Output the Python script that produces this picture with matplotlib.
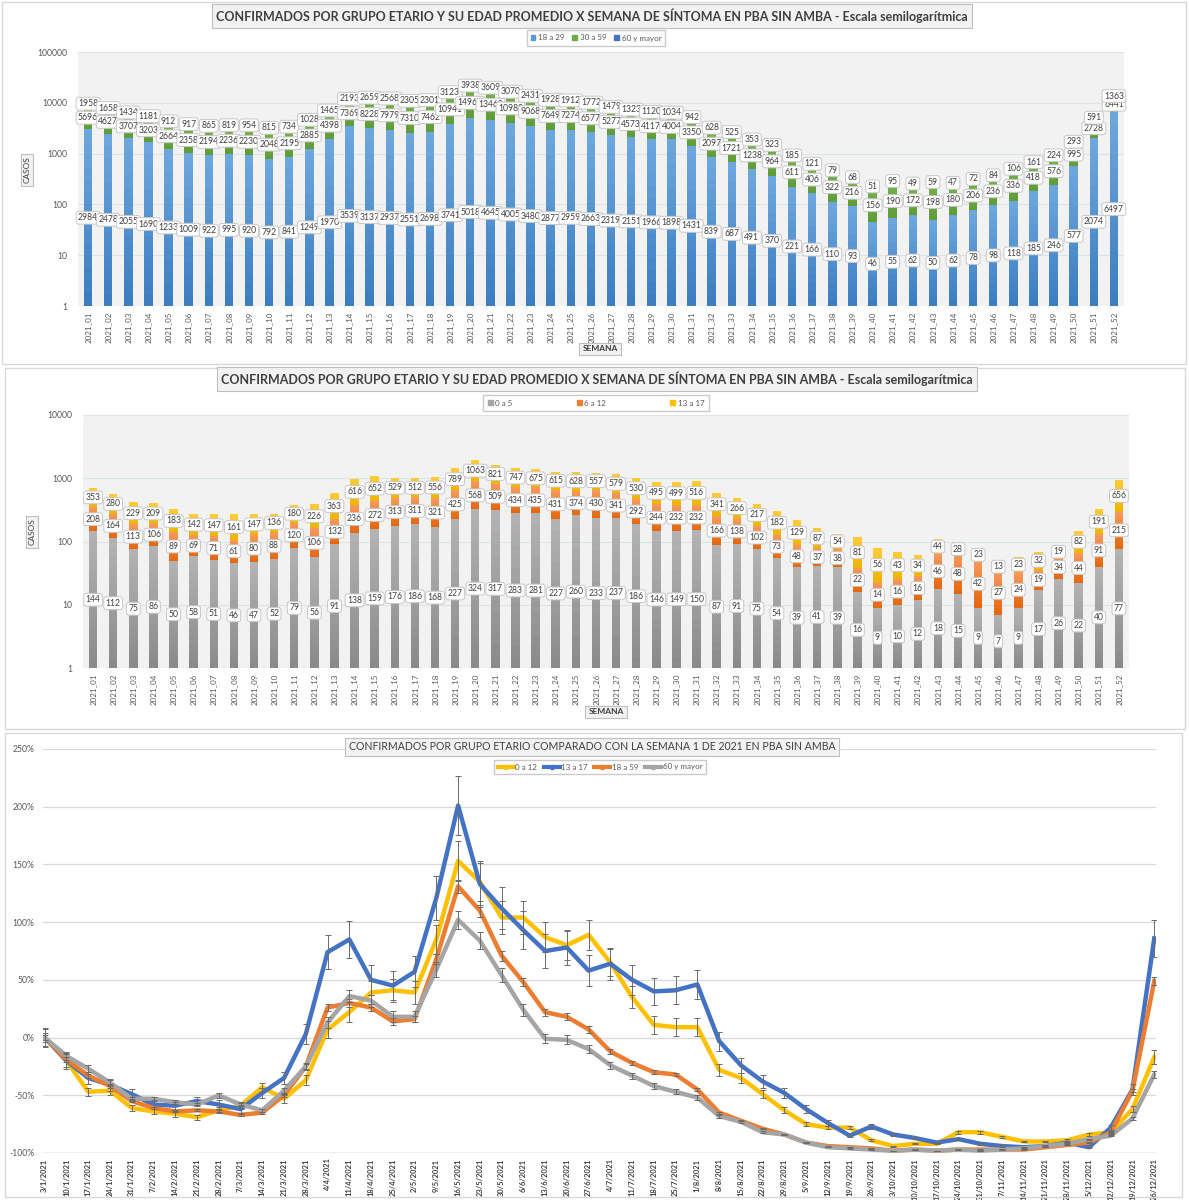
import numpy as np
import matplotlib
matplotlib.use("Agg")
import matplotlib.pyplot as plt
from matplotlib.patches import Rectangle, Patch
from matplotlib.lines import Line2D
from matplotlib.colors import to_rgb

plt.rcParams['font.family'] = ['Lato', 'DejaVu Sans']

# ---------------- DATA ----------------
weeks = ["2021_%02d" % i for i in range(1, 53)]

# Panel 1 (adults)
a18_29 = [2984, 2478, 2055, 1690, 1233, 1009, 922, 995, 920, 792, 841, 1249, 1970, 3539, 3137, 2937, 2551, 2698,
          3741, 5018, 4645, 4005, 3480, 2877, 2959, 2663, 2319, 2151, 1966, 1898, 1431, 839, 687, 491, 370, 221,
          166, 110, 93, 46, 55, 62, 50, 62, 78, 98, 118, 185, 246, 577, 2074, 6497]
a30_59 = [5696, 4627, 3707, 3203, 2664, 2358, 2194, 2236, 2230, 2048, 2195, 2885, 4398, 7369, 8228, 7979, 7310, 7462,
          10941, 14960, 13460, 10988, 9068, 7649, 7274, 6577, 5277, 4573, 4117, 4004, 3350, 2097, 1721, 1238, 964,
          611, 406, 322, 216, 156, 190, 172, 198, 180, 206, 236, 336, 418, 576, 995, 2728, 6441]
a60_mas = [1958, 1658, 1434, 1181, 912, 917, 865, 819, 954, 815, 734, 1028, 1465, 2193, 2659, 2568, 2305, 2301,
           3123, 3938, 3609, 3070, 2431, 1928, 1912, 1772, 1479, 1323, 1120, 1034, 942, 628, 525, 353, 323, 185,
           121, 79, 68, 51, 95, 49, 59, 47, 72, 84, 106, 161, 224, 293, 591, 1363]

# Panel 2 (children)
k0_5 = [144, 112, 75, 86, 50, 58, 51, 46, 47, 52, 79, 56, 91, 138, 159, 176, 186, 168, 227, 324, 317, 283, 281, 227,
        260, 233, 237, 186, 146, 149, 150, 87, 91, 75, 54, 39, 41, 39, 16, 9, 10, 12, 18, 15, 9, 7, 9, 17, 26, 22,
        40, 77]
k6_12 = [208, 164, 113, 106, 89, 69, 71, 61, 80, 88, 120, 106, 132, 236, 272, 313, 311, 321, 425, 568, 509, 434,
         435, 431, 374, 430, 341, 292, 244, 232, 232, 166, 138, 102, 73, 48, 37, 38, 22, 14, 16, 16, 46, 48, 42, 27,
         24, 19, 34, 44, 91, 215]
k13_17 = [353, 280, 229, 209, 183, 142, 147, 161, 147, 136, 180, 226, 363, 616, 652, 529, 512, 556, 789, 1063, 821,
          747, 675, 615, 628, 557, 579, 530, 495, 499, 516, 341, 266, 217, 182, 129, 87, 54, 81, 56, 43, 34, 44, 28,
          23, 13, 23, 32, 19, 82, 191, 656]

# Panel 3 (% change vs week 1)
dates = ["3/1/2021", "10/1/2021", "17/1/2021", "24/1/2021", "31/1/2021", "7/2/2021", "14/2/2021", "21/2/2021",
         "28/2/2021", "7/3/2021", "14/3/2021", "21/3/2021", "28/3/2021", "4/4/2021", "11/4/2021", "18/4/2021",
         "25/4/2021", "2/5/2021", "9/5/2021", "16/5/2021", "23/5/2021", "30/5/2021", "6/6/2021", "13/6/2021",
         "20/6/2021", "27/6/2021", "4/7/2021", "11/7/2021", "18/7/2021", "25/7/2021", "1/8/2021", "8/8/2021",
         "15/8/2021", "22/8/2021", "29/8/2021", "5/9/2021", "12/9/2021", "19/9/2021", "26/9/2021", "3/10/2021",
         "10/10/2021", "17/10/2021", "24/10/2021", "31/10/2021", "7/11/2021", "14/11/2021", "21/11/2021",
         "28/11/2021", "5/12/2021", "12/12/2021", "19/12/2021", "26/12/2021"]
p0_12 = [0, -20, -47, -46, -61, -64, -66, -69, -63, -59, -43, -53, -37, 7, 22, 39, 41, 39, 85, 153, 135, 104, 104,
         87, 80, 89, 65, 35, 11, 9, 9, -28, -35, -49, -63, -75, -78, -78, -89, -94, -92, -92, -82, -82, -86, -90,
         -90, -89, -84, -82, -62, -17]
p13_17 = [0, -20, -35, -41, -49, -58, -59, -55, -58, -62, -48, -35, 3, 74, 85, 50, 45, 57, 121, 201, 133, 112, 93,
          75, 78, 58, 64, 50, 40, 41, 46, -3, -24, -38, -48, -62, -74, -85, -77, -84, -87, -91, -88, -92, -94, -95,
          -94, -91, -95, -78, -45, 86]
p18_59 = [0, -19, -33, -42, -55, -61, -64, -63, -64, -67, -65, -50, -25, 26, 30, 26, 14, 16, 68, 131, 110, 71, 48,
          22, 18, 7, -12, -22, -30, -32, -45, -65, -72, -79, -84, -91, -94, -95, -96, -98, -97, -98, -97, -97, -97,
          -97, -95, -93, -91, -82, -46, 49]
p60_mas = [0, -16, -27, -39, -53, -53, -56, -58, -50, -58, -63, -46, -25, 13, 36, 32, 18, 18, 59, 102, 84, 54, 24,
           -1, -2, -10, -24, -33, -42, -47, -52, -68, -73, -82, -84, -91, -95, -96, -97, -98, -97, -98, -97, -98,
           -97, -96, -94, -92, -88, -85, -70, -32]
err_frac = {"0 a 12": 0.07, "13 a 17": 0.085, "18 a 59": 0.025, "60 y mayor": 0.04}

# ---------------- HELPERS ----------------
W, H = 1189, 1200
fig = plt.figure(figsize=(W / 100, H / 100), dpi=100)


def fx(x):
    return x / W


def fy(y):
    return 1 - y / H


def rect_ax(x0, y0, x1, y1):
    return fig.add_axes([fx(x0), fy(y1), fx(x1) - fx(x0), fy(y0) - fy(y1)])


def mix(c1, c2, t):
    a, b = np.array(to_rgb(c1)), np.array(to_rgb(c2))
    return tuple(a + (b - a) * t)


def grad_bars(ax, x, lo, hi, c_lo, c_hi, width, n=14):
    lo = np.asarray(lo, float)
    hi = np.asarray(hi, float)
    r = hi / lo
    for k in range(n):
        b = lo * r ** (k / n)
        t = lo * r ** ((k + 1) / n)
        ax.bar(x, t - b, bottom=b, width=width, color=mix(c_lo, c_hi, (k + 0.5) / n), lw=0, zorder=2)


def panel_border(x0, y0, x1, y1):
    fig.add_artist(Rectangle((fx(x0), fy(y1)), fx(x1) - fx(x0), fy(y0) - fy(y1), transform=fig.transFigure,
                             fill=False, ec='#d9d9d9', lw=1.0))


def title_box(x, y, s, bold=True, size=9.0):
    fig.text(fx(x), fy(y), s, ha='center', va='center', fontsize=size, color='#404040',
             fontweight='bold' if bold else 'normal',
             bbox=dict(boxstyle='square,pad=0.35', fc='#f2f2f2', ec='#bfbfbf', lw=0.8))


def small_box(x, y, s, rot=0, bold=False):
    fig.text(fx(x), fy(y), s, ha='center', va='center', fontsize=6, color='#404040', rotation=rot,
             fontweight='bold' if bold else 'normal',
             bbox=dict(boxstyle='square,pad=0.35', fc='#f2f2f2', ec='#bfbfbf', lw=0.8))


def data_label(ax, x, y, s):
    ax.text(x, y, s, ha='center', va='center', fontsize=6.2, color='#404040', zorder=5,
            bbox=dict(boxstyle='round,pad=0.22,rounding_size=0.3', fc='white', ec='#c8c8c8', lw=0.7))


def stacked_log_panel(ax, s1, s2, s3, cols, ymax, yticks):
    x = np.arange(len(weeks))
    s1, s2, s3 = (np.asarray(s, float) for s in (s1, s2, s3))
    c1 = s1
    c2 = s1 + s2
    c3 = c2 + s3
    ax.set_yscale('log')
    ax.set_facecolor('#f2f2f2')
    w = 0.42
    grad_bars(ax, x, np.ones_like(c1), c1, cols[0][0], cols[0][1], w)
    grad_bars(ax, x, c1, c2, cols[1][0], cols[1][1], w)
    grad_bars(ax, x, c2, c3, cols[2][0], cols[2][1], w)
    for i in range(len(x)):
        data_label(ax, x[i], np.sqrt(c1[i]), str(int(s1[i])))
        data_label(ax, x[i], np.sqrt(c1[i] * c2[i]), str(int(s2[i])))
        data_label(ax, x[i], np.sqrt(c2[i] * c3[i]), str(int(s3[i])))
    ax.set_ylim(1, ymax)
    ax.set_xlim(-0.5, len(x) - 0.5)
    ax.set_yticks(yticks)
    ax.set_yticklabels([str(v) for v in yticks])
    ax.yaxis.set_minor_locator(matplotlib.ticker.NullLocator())
    ax.set_xticks(x)
    ax.set_xticklabels(weeks, rotation=90)
    ax.tick_params(axis='x', length=0, labelsize=5.8, labelcolor='#595959', pad=4)
    ax.tick_params(axis='y', length=0, labelsize=6.2, labelcolor='#595959', pad=8)
    ax.grid(axis='y', color='#dde3ea', lw=0.8, zorder=0)
    ax.set_axisbelow(True)
    for sp in ax.spines.values():
        sp.set_visible(False)


# ---------------- PANEL 1 ----------------
panel_border(2, 2, 1186, 364)
ax1 = rect_ax(78, 52, 1124, 306)
cols1 = [('#3a7cc0', '#6ea8de'), ('#5f9b38', '#74b14a'), ('#3f6fc0', '#4a7bcc')]
stacked_log_panel(ax1, a18_29, a30_59, a60_mas, cols1, 100000, [1, 10, 100, 1000, 10000, 100000])
title_box(592, 16, "CONFIRMADOS POR GRUPO ETARIO Y SU EDAD PROMEDIO X SEMANA DE SÍNTOMA EN PBA SIN AMBA - Escala semilogarítmica")
h1 = [Patch(color='#5b9bd5'), Patch(color='#70ad47'), Patch(color='#4472c4')]
ax1.legend(h1, ["18 a 29", "30 a 59", "60 y mayor"], loc='center', bbox_to_anchor=(fx(596), fy(38)),
           bbox_transform=fig.transFigure, ncol=3, fontsize=5.8, frameon=True, fancybox=False, edgecolor='#bfbfbf',
           handlelength=0.6, handleheight=0.6, handletextpad=0.3, columnspacing=1.0, labelcolor='#595959',
           borderpad=0.5)
small_box(27, 170, "CASOS", rot=90)
small_box(600, 349, "SEMANA", bold=True)

# ---------------- PANEL 2 ----------------
panel_border(5, 368, 1185, 729)
ax2 = rect_ax(83, 415, 1129, 668)
cols2 = [('#8a8a8a', '#b3b3b3'), ('#e4660e', '#f79a5c'), ('#eeb400', '#ffcb3a')]
stacked_log_panel(ax2, k0_5, k6_12, k13_17, cols2, 10000, [1, 10, 100, 1000, 10000])
title_box(597, 379, "CONFIRMADOS POR GRUPO ETARIO Y SU EDAD PROMEDIO X SEMANA DE SÍNTOMA EN PBA SIN AMBA - Escala semilogarítmica")
h2 = [Patch(color='#a5a5a5'), Patch(color='#ed7d31'), Patch(color='#ffc000')]
ax2.legend(h2, ["0 a 5", "6 a 12", "13 a 17"], loc='center', bbox_to_anchor=(fx(596), fy(403)),
           bbox_transform=fig.transFigure, ncol=3, fontsize=5.8, frameon=True, fancybox=False, edgecolor='#bfbfbf',
           handlelength=0.6, handleheight=0.6, handletextpad=0.3, columnspacing=8.0, labelcolor='#595959',
           borderpad=0.6)
small_box(32, 532, "CASOS", rot=90)
small_box(606, 712, "SEMANA", bold=True)

# ---------------- PANEL 3 ----------------
panel_border(5, 733, 1182, 1197)
ax3 = rect_ax(43, 749, 1156, 1153)
x3 = np.arange(len(dates))
series3 = [("0 a 12", p0_12, '#ffc000'), ("13 a 17", p13_17, '#4472c4'),
           ("18 a 59", p18_59, '#ed7d31'), ("60 y mayor", p60_mas, '#a5a5a5')]
handles3 = []
for z, (name, vals, col) in enumerate(series3):
    v = np.asarray(vals, float)
    ax3.plot(x3, v, color=col, lw=3.2, solid_joinstyle='round', zorder=3 + z)
    err = err_frac[name] * (100 + v)
    ax3.errorbar(x3, v, yerr=err, fmt='none', ecolor='#6b6b6b', elinewidth=0.7, capsize=2, capthick=0.7,
                 zorder=8)
    handles3.append(Line2D([0], [0], color=col, lw=3, marker='o', markersize=3))
ax3.set_ylim(-100, 250)
ax3.set_xlim(-0.08, len(dates) - 1 + 0.08)
ax3.set_yticks(np.arange(-100, 251, 50))
ax3.set_yticklabels(["%d%%" % v for v in np.arange(-100, 251, 50)])
ax3.set_xticks(x3)
ax3.set_xticklabels(dates, rotation=90, fontweight='bold')
ax3.tick_params(axis='x', length=0, labelsize=5.4, labelcolor='#404040', pad=4)
ax3.tick_params(axis='y', length=0, labelsize=6.2, labelcolor='#595959', pad=6)
ax3.grid(axis='y', color='#d9d9d9', lw=0.9, zorder=0)
ax3.axhline(-100, color='#bfbfbf', lw=1.0, zorder=1)
ax3.set_axisbelow(True)
for sp in ax3.spines.values():
    sp.set_visible(False)
title_box(592, 747, "CONFIRMADOS POR GRUPO ETARIO COMPARADO CON LA SEMANA 1 DE 2021 EN PBA SIN AMBA", bold=False,
          size=7.6)
ax3.legend(handles3, [s[0] for s in series3], loc='center', bbox_to_anchor=(fx(600), fy(767)),
           bbox_transform=fig.transFigure, ncol=4, fontsize=5.8, frameon=True, fancybox=False, edgecolor='#bfbfbf',
           handlelength=2.0, handletextpad=0.2, columnspacing=0.8, labelcolor='#595959', borderpad=0.4)

fig.savefig("out.png", dpi=100)
